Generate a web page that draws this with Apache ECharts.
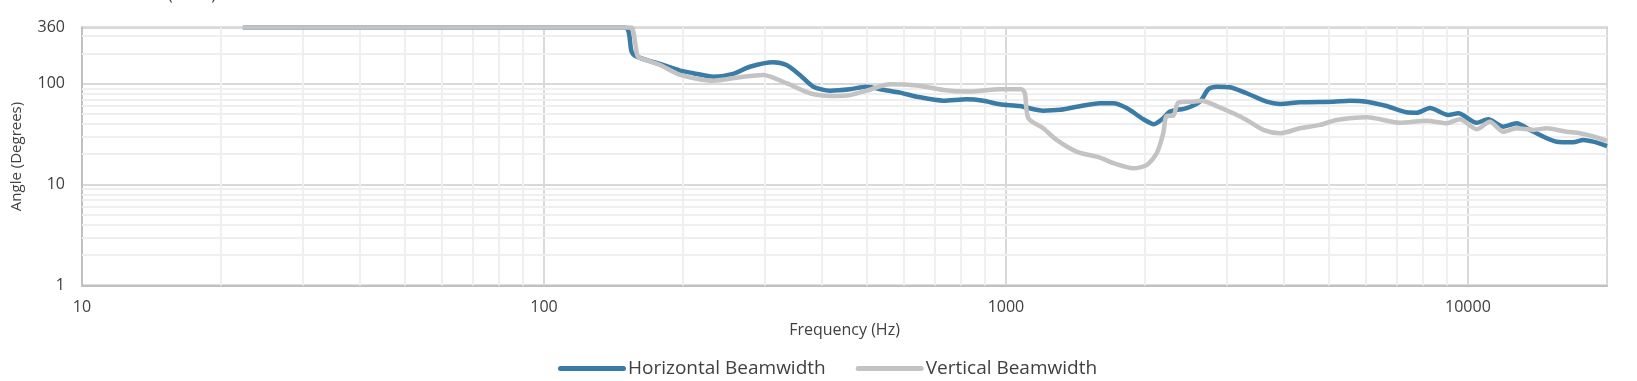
<!DOCTYPE html>
<html>
<head>
<meta charset="utf-8">
<script src="https://cdn.jsdelivr.net/npm/echarts@6/dist/echarts.min.js"></script>
<style>
html,body{margin:0;padding:0;background:#fff;}
#chart{width:1637px;height:381px;}
</style>
</head>
<body>
<div id="chart"></div>
<script>
// Horizontal beamwidth (frequency Hz, angle degrees)
var hFreq = [22.3, 149.7, 154.8, 158.7, 181, 197, 210.5, 232.6, 256.8, 279, 313.5, 335, 358, 382.7, 416, 459.5, 499, 542.7, 590, 641, 732, 822, 893, 970, 1072, 1204, 1309, 1422, 1597, 1708, 1825, 1983, 2091, 2190, 2265, 2461, 2630, 2741, 2858, 3053, 3319, 3667, 3919, 4330, 5110, 5555, 6036, 6668, 7368, 7745, 8275, 9065, 9528, 10443, 11063, 11924, 12749, 13623, 15560, 16900, 17764, 18670, 20000];
var hDeg = [360, 360, 207, 185, 153, 134.5, 127, 117, 125, 147, 163, 153, 122, 93.4, 85.2, 88, 93.4, 87, 81.4, 74.3, 67.8, 70, 67.8, 62.5, 60, 54, 55, 59, 64, 64, 57.3, 44.4, 39.6, 45.4, 52.8, 57.3, 66.3, 88, 93.4, 92, 80.3, 66.3, 63, 65.4, 66.3, 67.8, 66.3, 60, 52, 51.5, 57.3, 49, 50.8, 41, 44.4, 37.5, 40.5, 34.8, 26.6, 26.2, 27.7, 26.6, 24.1];
// Vertical beamwidth
var vFreq = [22.3, 153.5, 155, 159, 160, 178.3, 197, 232.6, 265.6, 298.3, 335, 376.5, 423, 459.5, 499, 561, 641, 732, 822, 970, 1081, 1099, 1118, 1204, 1287, 1422, 1597, 1708, 1886, 2016, 2120, 2190, 2228, 2302, 2360, 2543, 2652, 2858, 3105, 3319, 3606, 3919, 4330, 4783, 5197, 6036, 6450, 7126, 8138, 8993, 9609, 10443, 11159, 11924, 12749, 13849, 14801, 16356, 17474, 18991, 20000];
var vDeg = [360, 360, 360, 195, 183, 153, 122, 107, 116, 122, 101, 80.3, 75.5, 77, 85.2, 98.6, 96, 86.5, 83.4, 88, 88, 80, 45.4, 36.1, 27.7, 21.2, 18.5, 16.3, 14.5, 15.6, 20.4, 32.2, 47.9, 48, 64.8, 66.3, 67.8, 60, 50.8, 43.6, 34.8, 32.2, 36.1, 39, 43.6, 46.5, 44.4, 41, 43, 40.5, 44.4, 35.3, 42, 33.4, 36.1, 34.8, 36.1, 33.4, 32.2, 29.4, 27.2];
// Axis ranges and gridline values
var xMin = 10, xMax = 20000;
var yMin = 1, yMax = 360;
var xMinorGrid = [20,30,40,50,60,70,80,90,200,300,400,500,600,700,800,900,2000,3000,4000,5000,6000,7000,8000,9000];
var yMinorGrid = [2,3,4,5,6,7,8,9,20,30,40,50,60,70,80,90,200,300];
var seriesNames = ['Horizontal Beamwidth', 'Vertical Beamwidth'];

function pairs(f, v){ return f.map(function(x, i){ return [x, v[i]]; }); }

var FONT = '"Open Sans", "DejaVu Sans", sans-serif';
var TXT = '#404040';

var chart = echarts.init(document.getElementById('chart'), null, {renderer: 'canvas'});
var gridMarks = xMinorGrid.map(function(v){ return {xAxis: v}; })
  .concat(yMinorGrid.map(function(v){ return {yAxis: v}; }));

chart.setOption({
  animation: false,
  backgroundColor: '#fff',
  title: {
    text: 'Beamwidth (-6 dB)',
    left: 74, top: -18,
    textStyle: {fontFamily: FONT, fontSize: 16, fontWeight: 'normal', color: TXT}
  },
  grid: {
    left: 82, right: 30, top: 27.5, bottom: 95.5,
    containLabel: false, outerBoundsMode: 'none',
    show: true, borderColor: '#c0c0c0', borderWidth: 2, backgroundColor: 'transparent'
  },
  legend: {
    left: 553, top: 354,
    itemWidth: 68, itemHeight: 5, itemGap: 30,
    icon: 'path://M2.5,0 L65.5,0 A2.5,2.5 0 0 1 65.5,5 L2.5,5 A2.5,2.5 0 0 1 2.5,0 Z',
    textStyle: {fontFamily: FONT, fontSize: 19, color: TXT, padding: [0,0,0,-3]},
    data: seriesNames
  },
  xAxis: {
    type: 'log', logBase: 10, min: xMin, max: xMax,
    name: 'Frequency (Hz)', nameLocation: 'middle', nameGap: 37,
    nameTextStyle: {fontFamily: FONT, fontSize: 16, color: TXT},
    axisLine: {show: true, lineStyle: {color: '#c0c0c0', width: 2}},
    axisTick: {show: false},
    axisLabel: {
      fontFamily: FONT, fontSize: 16, color: TXT, margin: 14,
      formatter: function(v){
        var r = Math.round(v);
        var l = Math.log10(r);
        return Math.abs(l - Math.round(l)) < 1e-6 ? String(r) : '';
      }
    },
    splitLine: {show: true, lineStyle: {color: '#d9d9d9', width: 2}}
  },
  yAxis: {
    type: 'log', logBase: 10, min: yMin, max: yMax,
    name: 'Angle (Degrees)', nameLocation: 'middle', nameGap: 58, nameRotate: 90,
    nameTextStyle: {fontFamily: FONT, fontSize: 15, color: TXT},
    axisLine: {show: true, lineStyle: {color: '#c0c0c0', width: 2}},
    axisTick: {show: false},
    axisLabel: {
      fontFamily: FONT, fontSize: 16, color: TXT, margin: 17,
      formatter: function(v){ return String(Math.round(v)); }
    },
    splitLine: {show: true, lineStyle: {color: '#d9d9d9', width: 2}}
  },
  series: [
    {
      name: '_grid', type: 'line', data: [], z: 0, silent: true,
      markLine: {
        z: 1, silent: true, symbol: ['none','none'], animation: false,
        label: {show: false},
        lineStyle: {color: '#efefef', width: 2, type: 'solid'},
        emphasis: {disabled: true},
        data: gridMarks
      }
    },
    {
      name: seriesNames[0], type: 'line', data: pairs(hFreq, hDeg),
      showSymbol: false, symbol: 'none', smooth: 0.25, z: 3,
      color: '#3a7ca5',
      lineStyle: {color: '#3a7ca5', width: 4.5}
    },
    {
      name: seriesNames[1], type: 'line', data: pairs(vFreq, vDeg),
      showSymbol: false, symbol: 'none', smooth: 0.25, z: 4,
      color: '#c3c3c3',
      lineStyle: {color: '#c3c3c3', width: 4.5}
    }
  ]
});
</script>
</body>
</html>
